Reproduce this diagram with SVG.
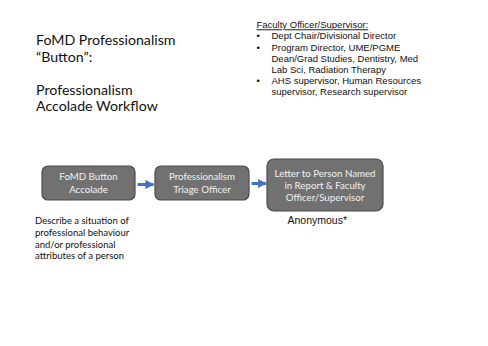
<svg xmlns="http://www.w3.org/2000/svg" width="488" height="346" viewBox="0 0 488 346">
<defs>
<style>
.title{font-family:Lato,"Open Sans","Liberation Sans",sans-serif;font-size:14.2px;fill:#111}
.side{font-family:"Liberation Sans",Arial,sans-serif;font-size:9.5px;fill:#111}
.note{font-family:Lato,"Liberation Sans",sans-serif;font-size:9.5px;fill:#111}
.box{fill:#717171;stroke:#4a4a4a;stroke-width:1.2}
.bt{font-family:Lato,"Liberation Sans",sans-serif;font-size:9.7px;fill:#f2f2f2;text-anchor:middle}
.arr{stroke:#4472c4;stroke-width:3;fill:none}
</style>
<marker id="ah" viewBox="0 0 10 10" refX="9" refY="5" markerWidth="3" markerHeight="3" orient="auto" markerUnits="strokeWidth">
<path d="M0,0 L10,5 L0,10 z" fill="#4472c4"/>
</marker>
</defs>
<rect width="488" height="346" fill="#fff"/>
<g id="title">
<text class="title" x="36" y="45">FoMD Professionalism</text>
<text class="title" x="36" y="61.5">“Button”:</text>
<text class="title" x="36" y="94.5">Professionalism</text>
<text class="title" x="36" y="111">Accolade Workflow</text>
</g>
<g id="faculty-list">
<text class="side" x="256.5" y="28.3" text-decoration="underline">Faculty Officer/Supervisor:</text>
<text class="side" x="256.5" y="39.3">•</text>
<text class="side" x="271.5" y="39.3">Dept Chair/Divisional Director</text>
<text class="side" x="256.5" y="50.5">•</text>
<text class="side" x="271.5" y="50.5">Program Director, UME/PGME</text>
<text class="side" x="271.5" y="61.6">Dean/Grad Studies, Dentistry, Med</text>
<text class="side" x="271.5" y="72.7">Lab Sci, Radiation Therapy</text>
<text class="side" x="256.5" y="83.5">•</text>
<text class="side" x="271.5" y="83.5">AHS supervisor, Human Resources</text>
<text class="side" x="271.5" y="94.5">supervisor, Research supervisor</text>
</g>
<g id="node-button">
<rect class="box" x="42" y="166" width="93" height="34" rx="6"/>
<text class="bt" x="88.5" y="180">FoMD Button</text>
<text class="bt" x="88.5" y="193.3">Accolade</text>
</g>
<g id="node-triage">
<rect class="box" x="155" y="166" width="94" height="34" rx="6"/>
<text class="bt" x="202" y="180">Professionalism</text>
<text class="bt" x="202" y="193.3">Triage Officer</text>
</g>
<g id="node-letter">
<rect class="box" x="267" y="159" width="116" height="52" rx="7"/>
<text class="bt" x="325" y="176.7">Letter to Person Named</text>
<text class="bt" x="325" y="188.5">in Report &amp; Faculty</text>
<text class="bt" x="325" y="200.7">Officer/Supervisor</text>
</g>
<g id="connectors">
<line class="arr" x1="137.5" y1="184.5" x2="153.5" y2="184.5" marker-end="url(#ah)"/>
<line class="arr" x1="251.5" y1="183.5" x2="266" y2="183.5" marker-end="url(#ah)"/>
</g>
<g id="notes">
<text class="note" x="35" y="224.3">Describe a situation of</text>
<text class="note" x="35" y="236">professional behaviour</text>
<text class="note" x="35" y="247.7">and/or professional</text>
<text class="note" x="35" y="259.4">attributes of a person</text>
<text class="side" x="287.5" y="224" style="font-size:10.5px">Anonymous*</text>
</g>
</svg>
